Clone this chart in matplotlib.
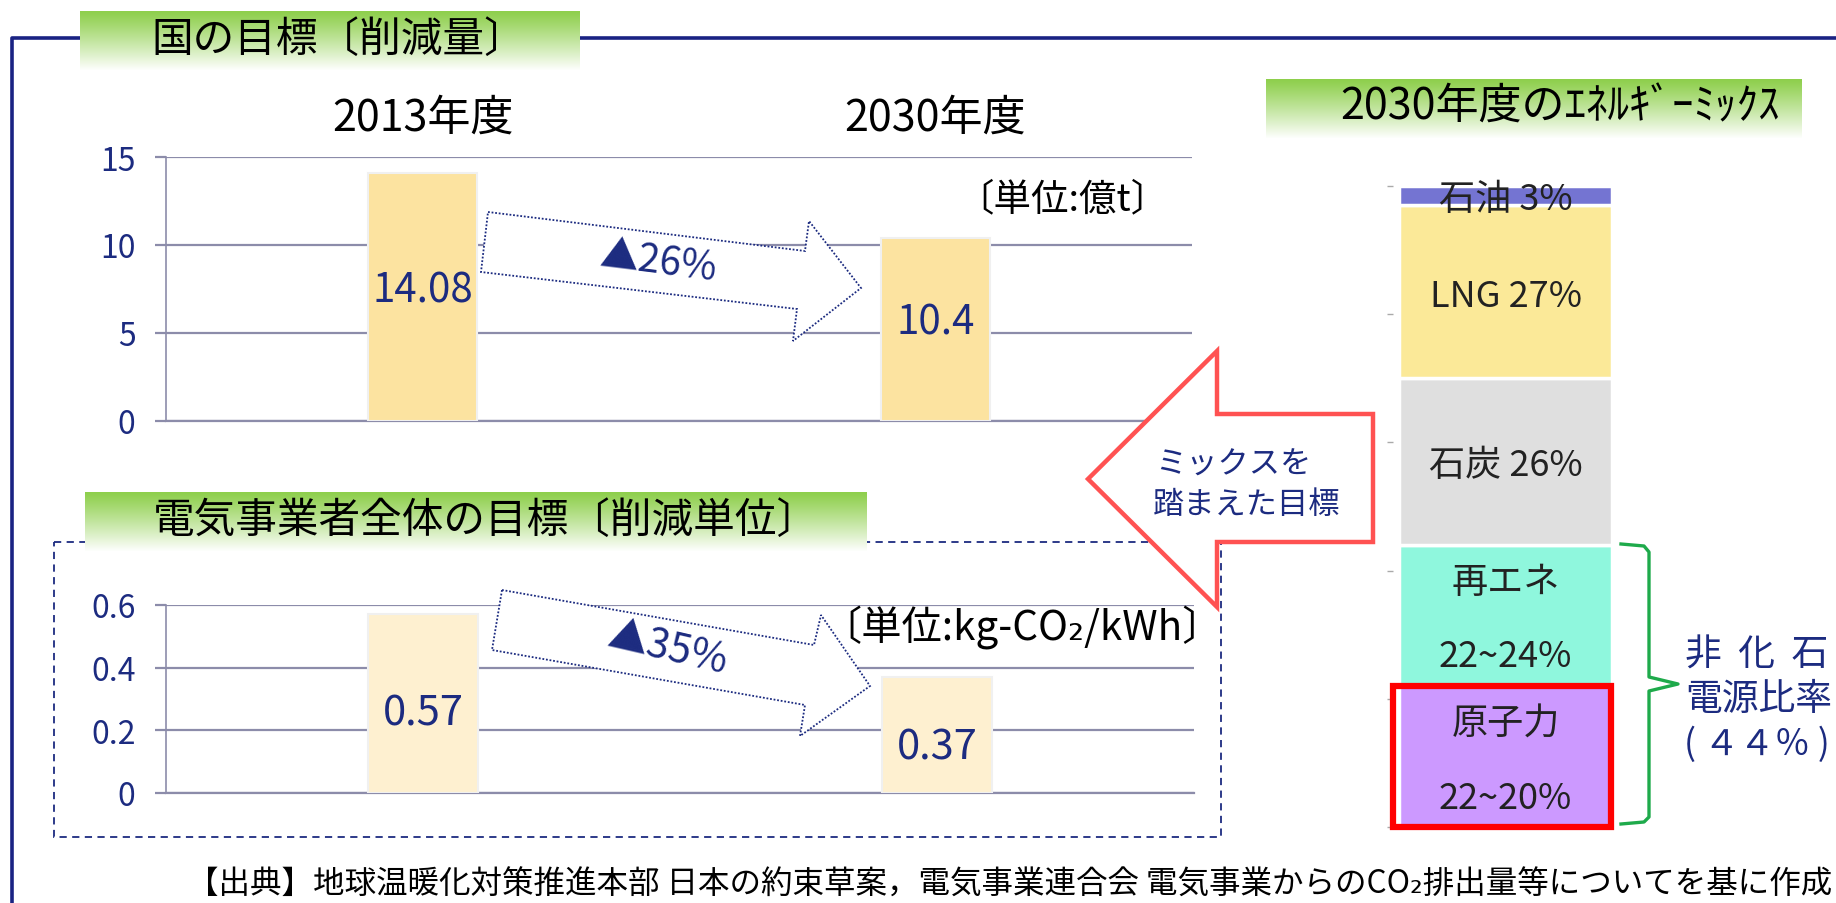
import numpy as np
import matplotlib
matplotlib.use('Agg')
import matplotlib.pyplot as plt
from matplotlib.patches import Polygon, Rectangle
from matplotlib.colors import to_rgb

plt.rcParams['font.family'] = ['Noto Sans CJK JP', 'DejaVu Sans']

# ── data ──────────────────────────────────────────────────────────────────
years = ['2013年度', '2030年度']
national_vals = [14.08, 10.4]          # 億t
utility_vals = [0.57, 0.37]            # kg-CO2/kWh
national_ticks = [0, 5, 10, 15]
utility_ticks = [0, 0.2, 0.4, 0.6]
utility_ticklabels = ['0', '0.2', '0.4', '0.6']

mix_names = ['原子力', '再エネ', '石炭', 'LNG', '石油']
mix_vals = [22, 22, 26, 27, 3]
mix_labels = ['原子力\n22~20%', '再エネ\n22~24%', '石炭 26%', 'LNG 27%', '石油 3%']
mix_colors = ['#CC99FF', '#8FF7DD', '#DFDFDF', '#FBE998', '#7474D2']

W, H = 1836, 904
NAVY = '#1C2B80'
GRID = '#8C8CAA'

fig = plt.figure(figsize=(W / 100, H / 100), dpi=100)


def px_axes(x0, y0, x1, y1, **kw):
    return fig.add_axes([x0 / W, 1 - y1 / H, (x1 - x0) / W, (y1 - y0) / H], **kw)


def style_bar_axes(ax):
    ax.set_xlim(-0.5, 1.5)
    ax.set_xticks([])
    ax.spines['top'].set_visible(False)
    ax.spines['right'].set_visible(False)
    ax.spines['left'].set_color(GRID)
    ax.spines['left'].set_linewidth(1.2)
    ax.spines['bottom'].set_color(GRID)
    ax.spines['bottom'].set_linewidth(1.6)
    ax.yaxis.grid(True, color=GRID, lw=1.6)
    ax.set_axisbelow(True)
    ax.tick_params(axis='y', direction='out', length=8, width=1.6, color=GRID,
                   labelsize=23, labelcolor=NAVY, pad=14)
    ax.patch.set_alpha(0)


# ── top chart: national target ────────────────────────────────────────────
ax1 = px_axes(166, 158, 1192, 422)
x = np.arange(len(years))
ax1.bar(x, national_vals, width=0.214, color='#FCE3A0', edgecolor='#F0F0F0',
        linewidth=1.5, zorder=3)
ax1.set_ylim(0, 15)
ax1.set_yticks(national_ticks)
style_bar_axes(ax1)
for i, v in enumerate(national_vals):
    ax1.text(i, v * (0.53 if i == 0 else 0.54), str(v), ha='center', va='center',
             fontsize=29, color=NAVY, zorder=4)
    ax1.text(i, 1.15, years[i], transform=ax1.get_xaxis_transform(),
             ha='center', va='center', fontsize=31, color='black')

# ── lower chart: utilities ────────────────────────────────────────────────
ax2 = px_axes(166, 606, 1194, 794)
ax2.bar(x, utility_vals, width=0.214, color='#FEF0D0', edgecolor='#F0F0F0',
        linewidth=1.5, zorder=3)
ax2.set_ylim(0, 0.6)
ax2.set_yticks(utility_ticks)
ax2.set_yticklabels(utility_ticklabels)
style_bar_axes(ax2)
for i, v in enumerate(utility_vals):
    ax2.text(i, v * (0.45 if i == 0 else 0.40), str(v), ha='center', va='center',
             fontsize=30, color=NAVY, zorder=4)

# ── stacked energy mix ────────────────────────────────────────────────────
ax3 = px_axes(1393, 187, 1618, 828)
bottom = 0
seg = []
for name, v, c in zip(mix_names, mix_vals, mix_colors):
    ax3.bar(0, v, bottom=bottom, width=0.947, color=c, edgecolor='white',
            linewidth=2.5)
    seg.append((bottom, v))
    bottom += v
ax3.set_xlim(-0.5, 0.5)
ax3.set_ylim(0, 100)
ax3.set_yticks(range(0, 101, 20))
ax3.set_yticklabels([])
ax3.set_xticks([])
ax3.tick_params(axis='y', length=4, width=1, color='#AAAAAA')
for s in ax3.spines.values():
    s.set_visible(False)
ax3.patch.set_alpha(0)
for (b, v), lab in zip(seg, mix_labels):
    parts = lab.split('\n')
    c = b + v / 2 - 0.6
    if len(parts) == 2:
        ax3.text(0, c + 5.8, parts[0], ha='center', va='center',
                 fontsize=26, color='#222222')
        ax3.text(0, c - 5.8, parts[1], ha='center', va='center',
                 fontsize=26, color='#222222')
    else:
        ax3.text(0, c, lab, ha='center', va='center', fontsize=26,
                 color='#222222')
# red box around nuclear
b0, v0 = seg[0]
ax3.add_patch(Rectangle((-0.5, b0), 0.97, v0, fill=False, edgecolor='#FF0000',
                        linewidth=4.5, clip_on=False, zorder=5))

# ── overlay: frame, headers, arrows, notes ────────────────────────────────
ax0 = fig.add_axes([0, 0, 1, 1], zorder=10)
ax0.set_xlim(0, W)
ax0.set_ylim(H, 0)
ax0.axis('off')
ax0.patch.set_alpha(0)

# outer frame
ax0.plot([12, 12, W], [H, 39, 39], color='#1A2383', lw=2.6, solid_capstyle='butt')
# dashed box around lower chart
ax0.add_patch(Rectangle((54, 543), 1167, 295, fill=False, edgecolor=NAVY,
                        linestyle=(0, (4, 3)), linewidth=1.3))


def header(x0, y0, x1, y1, text, tx, fs):
    g = np.linspace(0, 1, 60) ** 1.1
    top = np.array(to_rgb('#8ECF4C'))
    img = top[None, :] * (1 - g[:, None]) + np.ones(3)[None, :] * g[:, None]
    ax0.imshow(img[:, None, :], extent=(x0, x1, y1, y0), aspect='auto',
               interpolation='bilinear', zorder=2)
    ax0.text(tx, (y0 + y1) / 2 - 2, text, ha='center', va='center',
             fontsize=fs, color='black', zorder=3)


header(80, 12, 580, 72, '国の目標〔削減量〕', 339, 30)
header(85, 493, 867, 553, '電気事業者全体の目標〔削減単位〕', 486, 30)
header(1266, 80, 1802, 140, '2030年度のｴﾈﾙｷﾞｰﾐｯｸｽ', 1560, 31)
ax0.set_xlim(0, W)
ax0.set_ylim(H, 0)

# dotted navy block arrows
arrow1 = [(488, 213), (805, 252), (809, 222), (861, 289), (793, 342),
          (797, 310), (481, 273)]
arrow2 = [(502, 591), (814, 646), (821, 616), (870, 687), (800, 737),
          (805, 706), (492, 651)]
for pts in (arrow1, arrow2):
    ax0.add_patch(Polygon(pts, closed=True, facecolor='white', edgecolor=NAVY,
                          linestyle=(0, (1, 1)), linewidth=1.3, zorder=4))
ax0.text(659, 262, '▲26%', ha='center', va='center', fontsize=28, color=NAVY,
         rotation=-7, zorder=5)
ax0.text(668, 648, '▲35%', ha='center', va='center', fontsize=29, color=NAVY,
         rotation=-13, zorder=5)

# units
ax0.text(1062, 200, '〔単位:億t〕', ha='center', va='center', fontsize=27,
         color='black', zorder=5)
ax0.text(1022, 628, '〔単位:kg-CO₂/kWh〕', ha='center', va='center', fontsize=29,
         color='black', zorder=5)

# big red arrow pointing left
red = [(1088, 480), (1217, 352), (1217, 415), (1373, 415), (1373, 543),
       (1217, 543), (1217, 608)]
ax0.add_patch(Polygon(red, closed=True, facecolor='white', edgecolor='#FF5252',
                      linewidth=3.2, joinstyle='miter', zorder=4))
ax0.text(1155, 465, 'ミックスを', ha='left', va='center', fontsize=22.5,
         color=NAVY, zorder=5)
ax0.text(1153, 505, '踏まえた目標', ha='left', va='center', fontsize=22.5,
         color=NAVY, zorder=5)

# green brace
bx = [1621, 1644, 1649, 1649, 1678, 1649, 1649, 1644, 1621]
by = [545, 547, 553, 678, 685, 692, 818, 823, 825]
ax0.plot(bx, by, color='#1EAA4B', lw=2.4, zorder=4)
ax0.text(1685, 655, '非  化  石', ha='left', va='center', fontsize=26.5,
         color=NAVY, zorder=5)
ax0.text(1685, 700, '電源比率', ha='left', va='center', fontsize=26.5,
         color=NAVY, zorder=5)
ax0.text(1684, 745, '( ４４％ )', ha='left', va='center', fontsize=25.5,
         color=NAVY, zorder=5)

# source note
ax0.text(187, 885, '【出典】地球温暖化対策推進本部 日本の約束草案，電気事業連合会 '
         '電気事業からのCO₂排出量等についてを基に作成',
         ha='left', va='center', fontsize=22.7, color='black', zorder=5)

fig.savefig('out.png', dpi=100)
